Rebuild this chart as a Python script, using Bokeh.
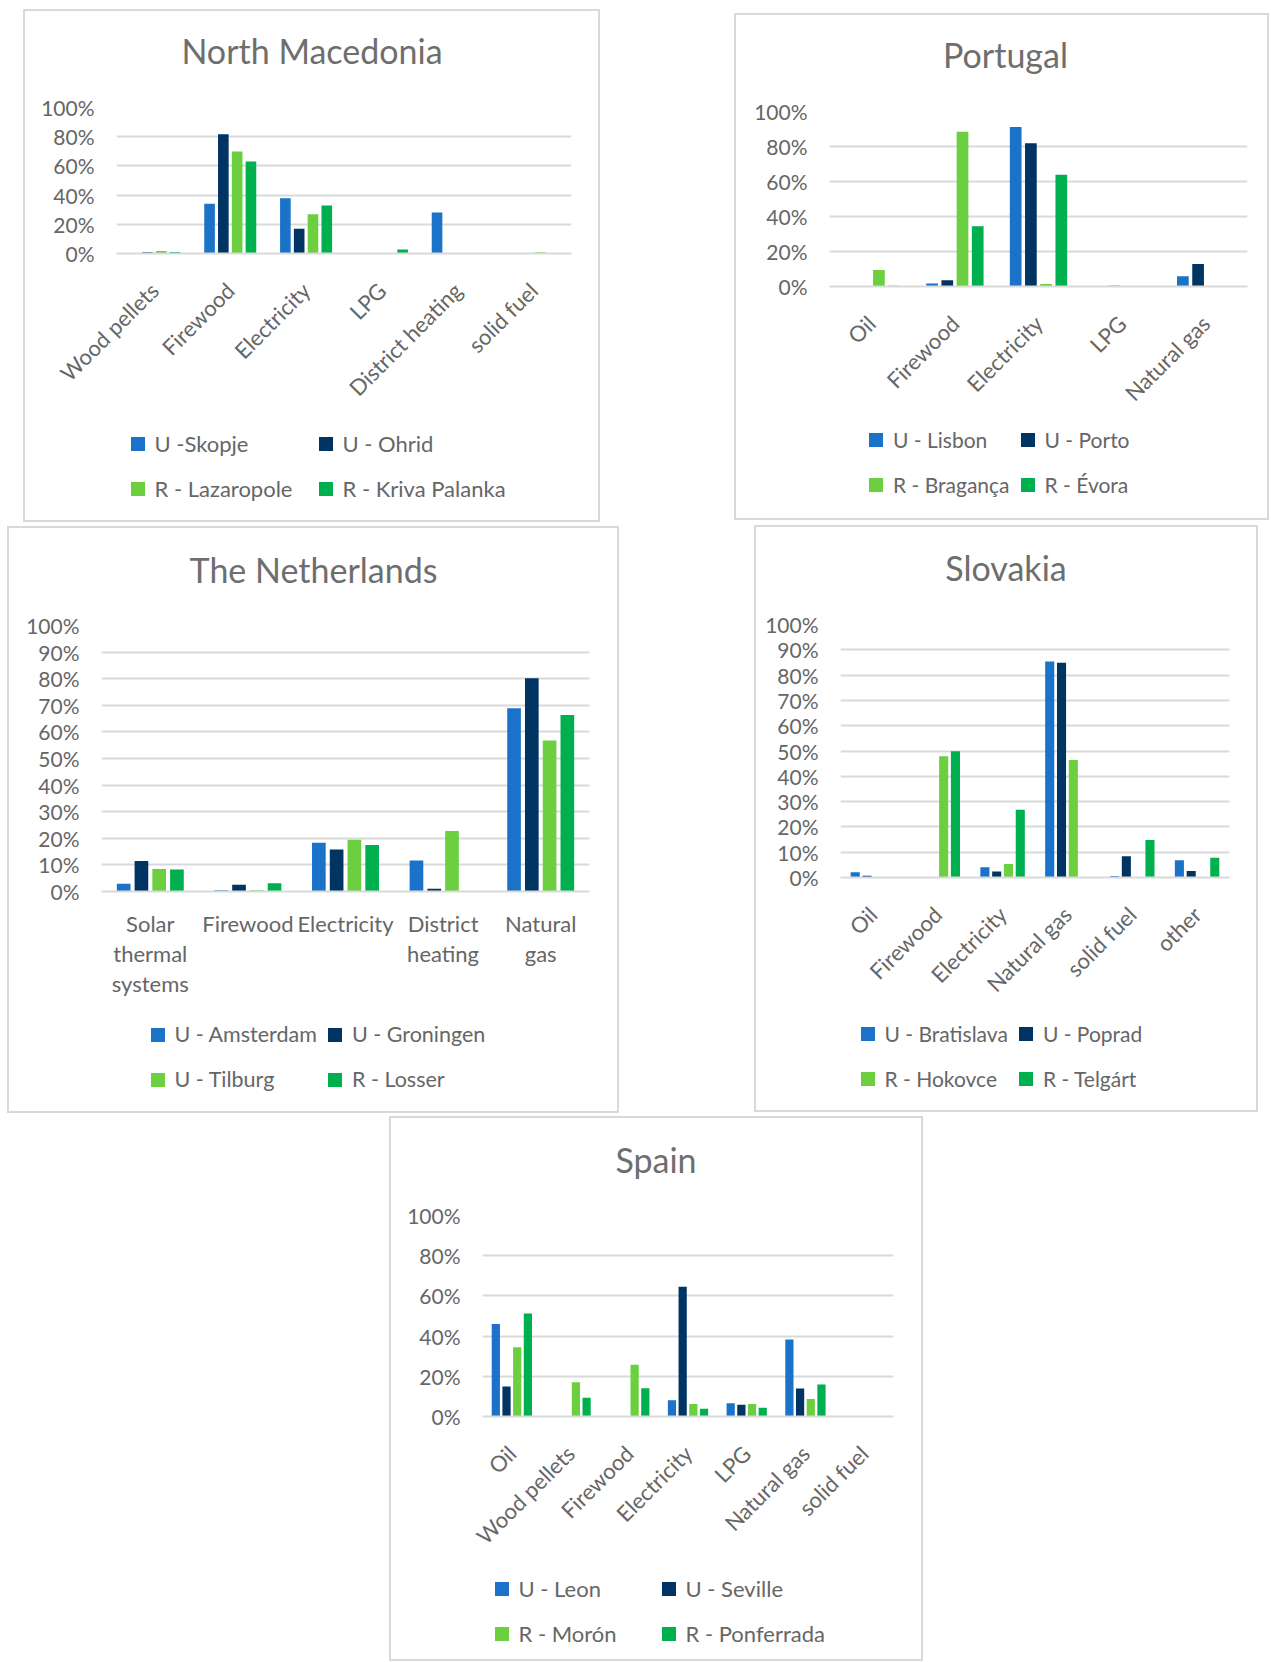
import math
import numpy as np
from bokeh.plotting import figure
from bokeh.models import (ColumnDataSource, FactorRange, Range1d, Legend, LegendItem,
                          PrintfTickFormatter, FixedTicker, Spacer, Label)
from bokeh.transform import dodge
from bokeh.layouts import row, column
from bokeh.embed import file_html
from bokeh.resources import INLINE

# ---------------- data ----------------
mk_title = "North Macedonia"
mk_categories = ["Wood pellets", "Firewood", "Electricity", "LPG", "District heating", "solid fuel"]
mk_series = ["U -Skopje", "U - Ohrid", "R - Lazaropole", "R - Kriva Palanka"]
mk_u_skopje = [0.0, 34.0, 37.8, 0.0, 28.0, 0.0]
mk_u_ohrid = [0.8, 81.7, 17.0, 0.0, 0.0, 0.0]
mk_r_lazaropole = [1.7, 69.9, 26.9, 0.0, 0.0, 0.8]
mk_r_kriva_palanka = [1.0, 63.0, 32.9, 2.8, 0.0, 0.0]
mk_ticks = [0, 20, 40, 60, 80, 100]

pt_title = "Portugal"
pt_categories = ["Oil", "Firewood", "Electricity", "LPG", "Natural gas"]
pt_series = ["U - Lisbon", "U - Porto", "R - Bragança", "R - Évora"]
pt_u_lisbon = [0.0, 1.7, 91.2, 0.0, 5.9]
pt_u_porto = [0.0, 3.6, 81.9, 0.4, 12.8]
pt_r_braganca = [9.4, 88.4, 1.5, 0.0, 0.0]
pt_r_evora = [0.4, 34.5, 63.9, 0.0, 0.3]
pt_ticks = [0, 20, 40, 60, 80, 100]

nl_title = "The Netherlands"
nl_categories = ["Solar\nthermal\nsystems", "Firewood", "Electricity", "District\nheating", "Natural\ngas"]
nl_series = ["U - Amsterdam", "U - Groningen", "U - Tilburg", "R - Losser"]
nl_u_amsterdam = [2.9, 0.5, 18.3, 11.7, 68.9]
nl_u_groningen = [11.5, 2.5, 15.8, 1.0, 80.2]
nl_u_tilburg = [8.5, 0.5, 19.5, 22.7, 56.8]
nl_r_losser = [8.3, 3.1, 17.5, 0.0, 66.4]
nl_ticks = [0, 10, 20, 30, 40, 50, 60, 70, 80, 90, 100]

sk_title = "Slovakia"
sk_categories = ["Oil", "Firewood", "Electricity", "Natural gas", "solid fuel", "other"]
sk_series = ["U - Bratislava", "U - Poprad", "R - Hokovce", "R - Telgárt"]
sk_u_bratislava = [2.1, 0.0, 4.1, 85.4, 0.6, 6.8]
sk_u_poprad = [0.7, 0.0, 2.4, 84.9, 8.4, 2.6]
sk_r_hokovce = [0.0, 47.9, 5.3, 46.4, 0.0, 0.0]
sk_r_telgart = [0.0, 49.9, 26.8, 0.0, 14.8, 7.8]
sk_ticks = [0, 10, 20, 30, 40, 50, 60, 70, 80, 90, 100]

es_title = "Spain"
es_categories = ["Oil", "Wood pellets", "Firewood", "Electricity", "LPG", "Natural gas", "solid fuel"]
es_series = ["U - Leon", "U - Seville", "R - Morón", "R - Ponferrada"]
es_u_leon = [46.0, 0.0, 0.0, 8.1, 6.6, 38.3, 0.0]
es_u_seville = [14.9, 0.0, 0.0, 64.6, 5.8, 13.9, 0.0]
es_r_moron = [34.4, 17.0, 25.7, 6.2, 6.2, 8.7, 0.0]
es_r_ponferrada = [51.3, 9.3, 14.1, 3.9, 4.3, 15.9, 0.0]
es_ticks = [0, 20, 40, 60, 80, 100]

# ---------------- style ----------------
COLORS = ["#1A73C8", "#003462", "#6CCF3F", "#00B04F"]
FONT = "Lato"
TXT = "#666666"
TITLE_TXT = "#6E6E6E"
GRID = "#D9D9D9"
OFFSETS = [-0.273, -0.091, 0.091, 0.273]
BAR_W = 0.14
SIDE_L = "inset 2px 0 0 0 #D9D9D9"
SIDE_R = "inset -2px 0 0 0 #D9D9D9"
SIDE_T = "inset 0 2px 0 0 #D9D9D9"
SIDE_B = "inset 0 -2px 0 0 #D9D9D9"


def blank_fig(w, h, xr, shadow):
    f = figure(width=w, height=h, x_range=xr, y_range=Range1d(0, h),
               x_axis_type=None, y_axis_type=None, title=None,
               output_backend="svg", toolbar_location=None, tools="",
               min_border_left=0, min_border_right=0, min_border_top=0, min_border_bottom=0)
    f.border_fill_color = None
    f.background_fill_color = None
    f.outline_line_color = None
    f.styles = {"box-shadow": shadow, "background-color": "white"}
    return f


def make_panel(title, cats, series, values, ticks, rotate, g):
    W, H = g["W"], g["H"]
    Ht, Hm = g["Ht"], g["Hm"]
    L, R = g["L"], g["R"]

    # --- head (title); its frame is aligned with the chart frame (L..R) ---
    head = blank_fig(W, Ht, Range1d(L, R), ", ".join([SIDE_L, SIDE_R, SIDE_T]))
    head.add_layout(Label(x=g["tx"], y=Ht - g["ty"], text=title,
                          text_align="center", text_baseline="middle",
                          text_font=FONT, text_font_size="34px", text_color=TITLE_TXT))

    # --- main chart ---
    p = figure(width=W, height=Hm - Ht, x_range=FactorRange(factors=cats),
               y_range=Range1d(0, 100), title=None,
               output_backend="svg", toolbar_location=None, tools="",
               min_border_left=L, min_border_right=W - R,
               min_border_top=g["T"] - Ht, min_border_bottom=Hm - g["B"])
    p.border_fill_color = None
    p.background_fill_color = None
    p.outline_line_color = None
    p.styles = {"box-shadow": ", ".join([SIDE_L, SIDE_R]), "background-color": "white"}

    data = {"cat": cats}
    for i, v in enumerate(values):
        data[f"s{i}"] = v
    src = ColumnDataSource(data=data)
    for i, col in enumerate(COLORS):
        p.vbar(x=dodge("cat", OFFSETS[i], range=p.x_range), top=f"s{i}", width=BAR_W,
               source=src, fill_color=col, line_color=None)

    xa = p.xaxis[0]
    xa.axis_line_color = GRID
    xa.axis_line_width = 2
    xa.major_tick_line_color = None
    xa.minor_tick_line_color = None
    xa.major_label_text_font = FONT
    xa.major_label_text_font_size = "22px"
    xa.major_label_text_color = TXT
    if rotate:
        xa.major_label_orientation = math.pi / 4
        xa.major_label_standoff = 27
    else:
        xa.major_label_orientation = "horizontal"
        xa.major_label_standoff = 12
        xa.major_label_text_line_height = 1.125

    ya = p.yaxis[0]
    ya.ticker = FixedTicker(ticks=ticks)
    ya.formatter = PrintfTickFormatter(format="%d%%")
    ya.axis_line_color = None
    ya.major_tick_line_color = None
    ya.minor_tick_line_color = None
    ya.major_tick_out = 0
    ya.major_tick_in = 0
    ya.major_label_standoff = 22
    ya.major_label_text_font = FONT
    ya.major_label_text_font_size = "21px"
    ya.major_label_text_color = TXT

    p.xgrid.grid_line_color = None
    p.ygrid.grid_line_color = GRID
    p.ygrid.grid_line_width = 2

    # --- foot (legend); legend keys are placeholder markers with no visible point ---
    Hf = H - Hm
    foot = blank_fig(W, Hf, Range1d(L, R), ", ".join([SIDE_L, SIDE_R, SIDE_B]))
    items = []
    for name, col in zip(series, COLORS):
        key = foot.scatter(x=np.array([np.nan]), y=np.array([np.nan]), marker="square",
                           size=14, fill_color=col, line_color=None)
        items.append(LegendItem(label=name, renderers=[key]))
    leg = Legend(items=items, location=(g["ml"] - 13.5 - L, H - (g["r1"] + 67.5)),
                 orientation="horizontal", ncols=2,
                 glyph_width=35, glyph_height=45, label_height=45, label_width=g["lw"],
                 label_standoff=0, spacing=0, padding=0, margin=0,
                 border_line_color=None, background_fill_alpha=0,
                 label_text_font=FONT, label_text_font_size=g["lf"], label_text_color=TXT)
    foot.add_layout(leg, "center")

    return column(head, p, foot)


# panel geometry (pixels inside each panel box)
panel_mk = make_panel(mk_title, mk_categories, mk_series,
                      [mk_u_skopje, mk_u_ohrid, mk_r_lazaropole, mk_r_kriva_palanka], mk_ticks, True,
                      dict(W=577, H=513, L=93, R=548, T=98, B=254, Ht=80, Hm=404,
                           tx=288.5, ty=41, ml=110, r1=434, lw=153, lf="22px"))
panel_pt = make_panel(pt_title, pt_categories, pt_series,
                      [pt_u_lisbon, pt_u_porto, pt_r_braganca, pt_r_evora], pt_ticks, True,
                      dict(W=535, H=507, L=95, R=513, T=98, B=273, Ht=80, Hm=405,
                           tx=271, ty=41, ml=137.5, r1=426.5, lw=113, lf="21px"))
panel_nl = make_panel(nl_title, nl_categories, nl_series,
                      [nl_u_amsterdam, nl_u_groningen, nl_u_tilburg, nl_r_losser], nl_ticks, False,
                      dict(W=612, H=587, L=94, R=582, T=99, B=365, Ht=80, Hm=480,
                           tx=306, ty=43, ml=146, r1=508, lw=140, lf="21.5px"))
panel_sk = make_panel(sk_title, sk_categories, sk_series,
                      [sk_u_bratislava, sk_u_poprad, sk_r_hokovce, sk_r_telgart], sk_ticks, True,
                      dict(W=504, H=587, L=86, R=475, T=99, B=354, Ht=80, Hm=484,
                           tx=251.5, ty=42, ml=109, r1=508, lw=120, lf="21px"))
panel_es = make_panel(es_title, es_categories, es_series,
                      [es_u_leon, es_u_seville, es_r_moron, es_r_ponferrada], es_ticks, True,
                      dict(W=534, H=545, L=93, R=504, T=99, B=303, Ht=80, Hm=445,
                           tx=266.5, ty=43, ml=108, r1=472, lw=132, lf="22px"))

r1 = row(Spacer(width=23, height=1), column(Spacer(width=1, height=9), panel_mk),
         Spacer(width=134, height=1), column(Spacer(width=1, height=13), panel_pt))
r2 = row(Spacer(width=7, height=1), column(Spacer(width=1, height=4), panel_nl),
         Spacer(width=135, height=1), column(Spacer(width=1, height=3), panel_sk))
r3 = row(Spacer(width=389, height=1), column(Spacer(width=1, height=3), panel_es))
page = column(r1, r2, r3)

open("out.html", "w").write(file_html(page, INLINE))
